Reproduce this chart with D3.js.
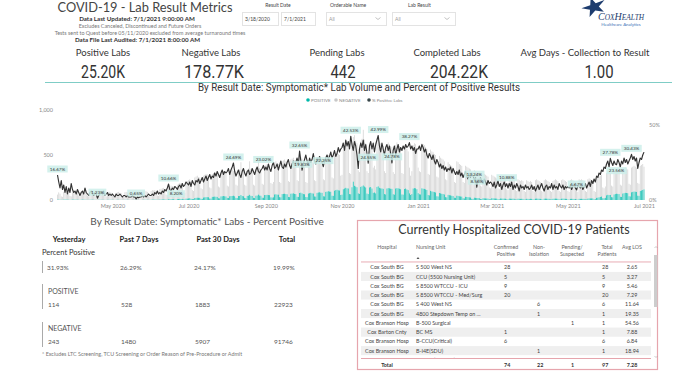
<!DOCTYPE html>
<html>
<head>
<meta charset="utf-8">
<script src="https://cdn.jsdelivr.net/npm/d3@7"></script>
<style>
  body { margin: 0; background: #fff; }
  svg text { font-family: Lato, "Open Sans", sans-serif; }
</style>
</head>
<body>
<svg id="dash" width="680" height="374"></svg>
<script>
// ---- data ----
let kpiLabels = ["Positive Labs", "Negative Labs", "Pending Labs", "Completed Labs", "Avg Days - Collection to Result"];
let kpiValues = ["25.20K", "178.77K", "442", "204.22K", "1.00"];

let startDay = "2020-03-18";
// total symptomatic labs per result date (positive + negative), one value per day
let totalLabs = [
  // Mar 2020 (from 18th)
  60, 85, 70, 40, 35, 90, 100, 95, 80, 75, 45, 40, 95, 105,
  // Apr
  100, 90, 85, 50, 45, 95, 100, 90, 85, 80, 45, 40, 90, 95, 100, 85, 80, 50, 40, 85, 90, 95, 80, 75, 45, 40, 80, 85, 90, 80,
  // May
  75, 40, 35, 80, 85, 90, 80, 75, 40, 35, 85, 90, 85, 80, 80, 40, 35, 85, 90, 95, 85, 80, 40, 35, 50, 95, 100, 95, 90, 45, 40,
  // Jun
  100, 110, 105, 110, 100, 50, 45, 120, 125, 130, 135, 120, 60, 55, 140, 150, 160, 155, 150, 80, 70, 170, 180, 190, 185, 175, 90, 80, 200, 210,
  // Jul
  220, 230, 150, 110, 100, 250, 260, 270, 255, 250, 130, 120, 270, 280, 290, 285, 270, 140, 130, 290, 300, 310, 290, 280, 150, 140, 300, 310, 320, 305, 290,
  // Aug
  160, 150, 320, 330, 340, 325, 310, 170, 160, 330, 340, 420, 335, 320, 170, 160, 340, 350, 430, 345, 330, 170, 160, 350, 360, 440, 355, 340, 180, 170, 380,
  // Sep
  390, 400, 380, 370, 190, 180, 200, 420, 430, 410, 400, 200, 190, 430, 440, 450, 430, 420, 210, 200, 450, 460, 470, 440, 430, 220, 210, 470, 480, 460,
  // Oct
  400, 390, 200, 190, 420, 430, 450, 420, 410, 220, 210, 440, 460, 470, 450, 440, 230, 220, 470, 490, 500, 480, 470, 250, 240, 500, 520, 540, 510, 500, 270,
  // Nov
  280, 560, 590, 620, 600, 580, 300, 290, 640, 700, 720, 660, 630, 330, 310, 650, 680, 780, 670, 630, 320, 300, 620, 650, 580, 360, 380, 340, 640, 680,
  // Dec
  650, 630, 620, 600, 320, 300, 610, 640, 620, 600, 590, 310, 290, 610, 640, 620, 600, 580, 300, 290, 590, 610, 570, 540, 360, 270, 320, 610, 630, 620, 580,
  // Jan 2021
  360, 320, 310, 630, 620, 610, 590, 570, 290, 280, 560, 540, 530, 510, 500, 260, 250, 490, 470, 460, 450, 430, 230, 220, 420, 400, 390, 380, 360, 200, 190,
  // Feb
  430, 420, 400, 390, 380, 200, 190, 380, 370, 360, 350, 340, 180, 170, 330, 320, 310, 300, 290, 160, 150, 300, 290, 280, 270, 260, 140, 130,
  // Mar
  280, 270, 260, 250, 240, 130, 120, 250, 240, 230, 240, 230, 120, 110, 240, 230, 220, 230, 220, 110, 100, 230, 220, 210, 220, 210, 100, 90, 220, 210, 200,
  // Apr
  210, 200, 100, 90, 220, 230, 220, 210, 200, 100, 90, 220, 230, 220, 210, 200, 100, 90, 210, 220, 230, 220, 210, 100, 90, 220, 230, 220, 210, 200,
  // May
  100, 90, 220, 230, 220, 210, 200, 100, 90, 230, 220, 230, 220, 210, 100, 90, 230, 240, 230, 220, 210, 100, 90, 240, 250, 260, 270, 280, 140, 130, 150,
  // Jun
  300, 320, 310, 300, 160, 150, 320, 330, 340, 330, 320, 170, 160, 340, 350, 360, 350, 340, 180, 170, 360, 370, 380, 370, 360, 190, 180, 380, 390, 400,
  // Jul 1
  370
];
let positiveLabs = [
  3, 4, 3, 2, 1, 4, 5, 4, 3, 3, 2, 2, 4, 4,
  4, 3, 3, 2, 1, 3, 4, 3, 3, 2, 1, 1, 3, 3, 3, 2, 2, 1, 0, 2, 3, 3, 2, 2, 1, 1, 2, 2, 3, 2,
  2, 1, 0, 2, 2, 2, 2, 1, 1, 0, 2, 2, 2, 1, 1, 1, 0, 1, 2, 2, 1, 1, 0, 0, 1, 2, 2, 2, 2, 1, 1,
  3, 4, 3, 4, 4, 2, 2, 5, 5, 6, 6, 6, 4, 3, 8, 8, 9, 9, 9, 5, 4, 10, 11, 13, 12, 13, 7, 6, 15, 16,
  18, 20, 14, 11, 10, 22, 24, 26, 25, 24, 14, 13, 28, 30, 32, 32, 31, 17, 16, 35, 36, 38, 36, 35, 20, 19, 40, 42, 44, 42, 40,
  24, 22, 42, 44, 45, 48, 42, 24, 22, 44, 45, 56, 44, 42, 24, 22, 46, 48, 58, 47, 45, 24, 22, 48, 50, 60, 50, 48, 26, 25, 55,
  56, 58, 55, 54, 30, 28, 30, 62, 64, 60, 60, 32, 30, 66, 68, 70, 66, 64, 34, 32, 70, 72, 74, 68, 66, 36, 34, 78, 82, 74,
  66, 64, 34, 32, 72, 76, 80, 74, 72, 40, 38, 80, 84, 86, 82, 80, 42, 40, 90, 94, 98, 94, 92, 48, 46, 104, 110, 114, 108, 106, 56,
  60, 120, 128, 136, 130, 128, 66, 64, 142, 204, 158, 150, 142, 74, 68, 146, 152, 162, 150, 140, 72, 66, 140, 144, 128, 80, 84, 74, 146, 152,
  136, 130, 128, 124, 66, 62, 128, 132, 130, 126, 124, 64, 60, 128, 132, 130, 126, 120, 62, 60, 122, 128, 118, 110, 74, 56, 66, 128, 132, 130, 120,
  76, 64, 62, 130, 126, 124, 118, 112, 56, 52, 102, 96, 92, 88, 84, 42, 40, 78, 74, 70, 66, 62, 32, 30, 58, 54, 52, 48, 44, 26, 24,
  48, 46, 42, 40, 38, 20, 18, 36, 34, 32, 30, 28, 14, 13, 26, 24, 22, 22, 20, 11, 10, 20, 19, 18, 17, 16, 9, 8,
  20, 19, 18, 17, 16, 9, 8, 17, 16, 15, 16, 15, 8, 7, 16, 15, 14, 15, 14, 7, 6, 15, 14, 13, 14, 13, 6, 6, 14, 13, 12,
  14, 13, 7, 6, 15, 16, 15, 14, 13, 7, 6, 15, 16, 15, 14, 13, 7, 6, 14, 15, 16, 15, 14, 7, 6, 15, 16, 15, 14, 13,
  6, 5, 13, 14, 13, 12, 12, 6, 5, 14, 13, 14, 13, 13, 7, 6, 16, 18, 18, 18, 18, 9, 9, 24, 26, 30, 34, 38, 20, 20, 24,
  52, 58, 56, 56, 32, 30, 62, 66, 70, 68, 66, 36, 34, 72, 76, 80, 78, 76, 42, 40, 86, 90, 94, 92, 90, 48, 46, 100, 106, 112,
  118
];
// % positive labs per day (percent)
let pctPositive = [
  16.67, 12, 8, 13, 7, 10, 5, 9, 4, 8, 5, 11, 7, 5,
  6, 4, 7, 5, 3, 5, 6, 4, 8, 5, 4, 3, 5, 6, 4, 3, 5, 4, 1.23, 3, 4, 5, 4, 6, 3, 4, 5, 3, 4, 3,
  4, 3, 2, 4, 3, 3, 4, 3, 2, 3, 3, 2, 3, 2, 2, 2, 3, 2, 2, 0.65, 2, 1.5, 2, 2, 3, 2, 3, 2, 3, 4, 3,
  3, 4, 3, 5, 4, 6, 4, 5, 4, 6, 5, 7, 6, 8, 10.66, 7, 6, 8, 7, 9, 8.2, 7, 9, 10, 8, 11, 9, 10, 12, 11,
  10, 12, 9, 13, 11, 10, 13, 12, 14, 11, 13, 15, 12, 14, 16, 13, 15, 17, 14, 16, 15, 18, 16, 19, 17, 15, 18, 20, 17, 19, 18,
  19, 21, 17, 20, 22, 24.69, 19, 16, 18, 20, 17, 15, 19, 21, 18, 16, 19, 20, 17, 18, 21, 19, 17, 20, 22, 19, 18, 20, 21, 23.02, 20,
  22, 20, 24, 21, 19, 23, 25, 21, 22, 24, 20, 23, 26, 22, 21, 24, 22, 25, 27, 23, 21, 24, 26, 23, 25, 28, 24, 32.65, 26, 19.83,
  24, 27, 30, 26, 23, 28, 25, 27, 31, 26, 24, 28, 26, 29, 27, 25, 22.25, 26, 28, 30, 27, 29, 32, 28, 30, 33, 29, 31, 35, 32, 34,
  35, 38, 33, 40, 36, 39, 34, 42.53, 37, 33, 39, 36, 30, 21, 34, 38, 35, 40, 33, 37, 31, 24.55, 36, 39, 34, 38, 32, 37, 40, 42.99,
  36, 32, 38, 34, 30, 35, 37, 33, 36, 31, 24.78, 33, 36, 30, 34, 37, 32, 35, 33, 36, 34, 37, 35, 36, 38.27, 34, 36, 33, 35, 31, 34,
  34, 36, 33, 37, 35, 32, 34, 30, 28, 31, 29, 27, 30, 26, 24, 27, 25, 22, 24, 21, 23, 20, 22, 19, 21, 20, 22, 18, 21, 19, 17,
  19, 17, 20, 16, 18, 15, 17, 19, 16, 14, 17, 15, 18, 16, 13.24, 15, 8.56, 14, 12, 15, 13, 11, 14, 12, 10, 13, 11, 12,
  11, 9, 12, 8, 10, 13, 9, 11, 7, 10, 12, 9, 10.88, 8, 11, 9, 12, 7, 10, 8, 11, 9, 6, 10, 8, 9, 7, 10, 8, 9, 7,
  8, 10, 7, 9, 6, 8, 10, 7, 9, 11, 8, 6, 9, 10, 7, 9, 8, 11, 7, 10, 8, 9, 7, 11, 9, 8, 10, 7, 9, 8,
  9, 8, 10, 7, 9, 11, 8, 6.67, 10, 9, 8, 10, 7, 9, 11, 8, 10, 12, 9, 13, 11, 14, 12, 16, 15, 18, 17, 20, 19, 22, 21,
  24, 26, 22, 27.78, 25, 23, 26, 24, 23.56, 27, 25, 22, 26, 24, 28, 25, 27, 24, 26, 28, 30.43, 27, 29, 26, 28, 21, 25, 28, 27, 30,
  31.93
];
let labelDates = ["2020-03-18", "2020-04-19", "2020-05-20", "2020-06-15", "2020-06-21", "2020-08-06", "2020-08-30",
  "2020-09-28", "2020-09-30", "2020-10-17", "2020-11-08", "2020-11-22", "2020-11-30", "2020-12-11", "2020-12-25",
  "2021-02-15", "2021-02-17", "2021-03-13", "2021-05-08", "2021-06-04", "2021-06-09", "2021-06-21"];

let summaryPeriods = ["Yesterday", "Past 7 Days", "Past 30 Days", "Total"];
let summaryPct = ["31.93%", "26.29%", "24.17%", "19.99%"];
let summaryPositive = [114, 528, 1883, 22923];
let summaryNegative = [243, 1480, 5907, 91746];

let hospitals = ["Cox South BG", "Cox South BG", "Cox South BG", "Cox South BG", "Cox South BG", "Cox South BG",
  "Cox Branson Hosp", "Cox Barton Cnty", "Cox Branson Hosp", "Cox Branson Hosp", "Cox Branson Hosp"];
let nursingUnits = ["S 500 West NS", "CCU (5500 Nursing Unit)", "S 8500 WTCCU - ICU", "S 8500 WTCCU - Med/Surg",
  "S 400 West NS", "4800 Stepdown Temp on ...", "B-500 Surgical", "BC MS", "B-CCU(Critical)", "B-I4E(SDU)", "B-MED(Medical)"];
let confirmedPositive = [28, 5, 9, 20, "", "", "", 1, 6, "", ""];
let nonIsolation = ["", "", "", "", 6, 1, "", "", "", 1, 1];
let pendingSuspected = ["", "", "", "", "", "", 1, "", "", "", ""];
let totalPatients = [28, 5, 9, 20, 6, 1, 1, 1, 6, 1, 1];
let avgLos = ["2.65", "3.27", "5.46", "7.29", "11.64", "19.35", "54.56", "7.88", "6.84", "18.94", "7.09"];
let tableTotals = ["Total", "", 74, 22, 1, 97, "7.28"];

// ---- page ----
let svg = d3.select("#dash");
let din = "Roboto, 'Open Sans', sans-serif";

// header
svg.append("text").attr("x", 145).attr("y", 12.2).attr("text-anchor", "middle")
  .style("font-size", "12.8px").attr("fill", "#444").text("COVID-19 - Lab Result Metrics");
let infoLines = [
  {t: "Data Last Updated: 7/1/2021 9:00:00 AM", x: 137, y: 21, b: true},
  {t: "Excludes Canceled, Discontinued and Future Orders", x: 140, y: 27.5, b: false},
  {t: "Tests sent to Quest before 05/11/2020 excluded from average turnaround times", x: 150, y: 35, b: false},
  {t: "Data File Last Audited: 7/1/2021 8:00:00 AM", x: 137.5, y: 42, b: true}
];
svg.selectAll(".info").data(infoLines).enter().append("text")
  .attr("x", d => d.x).attr("y", d => d.y).attr("text-anchor", "middle")
  .style("font-size", d => d.b ? "6.2px" : "5.4px").style("font-weight", d => d.b ? 700 : 400)
  .attr("fill", d => d.b ? "#333" : "#777").text(d => d.t);

// slicers
let slicer = svg.append("g").style("font-size", "5px").attr("fill", "#444");
slicer.append("text").attr("x", 278).attr("y", 7).attr("text-anchor", "middle").text("Result Date");
slicer.append("text").attr("x", 330).attr("y", 7).text("Orderable Name");
slicer.append("text").attr("x", 408).attr("y", 7).text("Lab Result");
[[242, 36, "3/18/2020"], [281, 34, "7/1/2021"], [326, 60, "All"], [392, 63, "All"]].forEach(function(b, i) {
  slicer.append("rect").attr("x", b[0] + 0.5).attr("y", 12.5).attr("width", b[1]).attr("height", 13)
    .attr("fill", "none").attr("stroke", "#e3e3e3");
  slicer.append("text").attr("x", b[0] + 3).attr("y", 21).attr("fill", i < 2 ? "#444" : "#999").text(b[2]);
  if (i >= 2) {
    let cx = b[0] + b[1] - 8;
    slicer.append("path").attr("d", "M" + (cx - 2.5) + ",17.5L" + cx + ",19.5L" + (cx + 2.5) + ",17.5")
      .attr("fill", "none").attr("stroke", "#999").attr("stroke-width", 0.6);
  }
});

// logo
let logo = svg.append("g");
logo.append("path").attr("d", d3.symbol(d3.symbolStar, 120)())
  .attr("transform", "translate(594,7) rotate(-20) scale(1.25,0.95)").attr("fill", "#1d3c6e");
let brand = logo.append("text").attr("x", 598).attr("y", 20).attr("fill", "#1d3c6e")
  .style("font-family", "'Liberation Serif', serif").style("font-style", "italic");
brand.append("tspan").style("font-size", "10px").text("C");
brand.append("tspan").style("font-size", "7.4px").text("OX");
brand.append("tspan").style("font-size", "10px").text("H");
brand.append("tspan").style("font-size", "7.4px").text("EALTH");
logo.append("text").attr("x", 621).attr("y", 25.5).attr("text-anchor", "middle")
  .style("font-size", "4.4px").attr("fill", "#3a6fb5").text("Healthcare Analytics");

// KPI cards
let kpiLabelX = [103, 211, 337, 447, 585];
let kpiValueX = [103, 214, 343, 459, 599];
let kpiValueW = [44, 60, 25, 58, 29];
svg.selectAll(".kpiLabel").data(kpiLabels).enter().append("text")
  .attr("x", (d, i) => kpiLabelX[i]).attr("y", 56).attr("text-anchor", "middle")
  .style("font-size", "9.5px").attr("fill", "#333").text(d => d);
svg.selectAll(".kpiValue").data(kpiValues).enter().append("text")
  .attr("x", (d, i) => kpiValueX[i]).attr("y", 78).attr("text-anchor", "middle")
  .style("font-family", din).style("font-size", "19px").attr("fill", "#333")
  .attr("textLength", (d, i) => kpiValueW[i]).attr("lengthAdjust", "spacingAndGlyphs").text(d => d);
svg.append("line").attr("x1", 45).attr("x2", 672).attr("y1", 82.5).attr("y2", 82.5)
  .attr("stroke", "#7fcdc6").attr("stroke-width", 1);

// ---- combo chart ----
svg.append("text").attr("x", 359).attr("y", 91).attr("text-anchor", "middle")
  .style("font-family", din).style("font-size", "10.5px").attr("fill", "#333")
  .attr("textLength", 322).attr("lengthAdjust", "spacingAndGlyphs")
  .text("By Result Date: Symptomatic* Lab Volume and Percent of Positive Results");

let legendItems = [
  {name: "POSITIVE", color: "#01b8aa", x: 308},
  {name: "NEGATIVE", color: "#c8c8c8", x: 336},
  {name: "% Positive Labs", color: "#374649", x: 369}
];
let legend = svg.append("g").selectAll("g").data(legendItems).enter().append("g")
  .attr("transform", d => "translate(" + d.x + ",100)");
legend.append("circle").attr("r", 1.8).attr("fill", d => d.color);
legend.append("text").attr("x", 3).attr("y", 1.6).style("font-size", "4.5px").attr("fill", "#888").text(d => d.name);

let parseDate = d3.timeParse("%Y-%m-%d");
let start = parseDate(startDay);
let series = totalLabs.map(function(t, i) {
  return {date: d3.timeDay.offset(start, i), total: t, positive: positiveLabs[i], pct: pctPositive[i] / 100};
});

let x = d3.scaleTime()
  .domain([start, series[series.length - 1].date])
  .range([57.5, 644]);
let yL = d3.scaleLinear().domain([0, 1000]).range([200, 110]);
let yR = d3.scaleLinear().domain([0, 0.6]).range([200, 110]);
let barW = 0.75;

let chart = svg.append("g");
chart.append("g").selectAll("rect").data(series).enter().append("rect")
  .attr("x", d => x(d.date) - barW / 2).attr("width", barW)
  .attr("y", d => yL(d.total)).attr("height", d => yL(d.positive) - yL(d.total))
  .attr("fill", "#d2d2d2");
chart.append("g").selectAll("rect").data(series).enter().append("rect")
  .attr("x", d => x(d.date) - barW / 2).attr("width", barW)
  .attr("y", d => yL(d.positive)).attr("height", d => yL(0) - yL(d.positive))
  .attr("fill", "#01b8aa");

let pctLine = d3.line().x(d => x(d.date)).y(d => yR(d.pct));
chart.append("path").attr("d", pctLine(series))
  .attr("fill", "none").attr("stroke", "#333").attr("stroke-width", 1.15).attr("stroke-linejoin", "round");

// data labels: above the point, or below it when it would hit the previous label
let labelG = chart.append("g").selectAll("g").data(labelDates.map(function(s) {
  return series[d3.timeDay.count(start, parseDate(s))];
})).enter().append("g");
labelG.append("text").attr("text-anchor", "middle").attr("y", 1.6)
  .style("font-size", "4.6px").attr("fill", "#333").text(d => d3.format(".2%")(d.pct));
let prevBox = null;
labelG.each(function(d) {
  let g = d3.select(this);
  let w = g.select("text").node().getComputedTextLength() + 5;
  let cx = x(d.date);
  let cy = yR(d.pct) - 6;
  if (prevBox && cx - w / 2 < prevBox.x2 && Math.abs(cy - prevBox.y) < 7) cy = yR(d.pct) + 6;
  prevBox = {x2: cx + w / 2, y: cy};
  g.attr("transform", "translate(" + cx + "," + cy + ")");
  g.insert("rect", "text").attr("x", -w / 2).attr("y", -3.5).attr("width", w).attr("height", 7)
    .attr("fill", "#cdeeea").attr("opacity", 0.85);
});

// axes
let axisStyle = function(sel) {
  sel.select(".domain").remove();
  sel.selectAll("text").style("font-size", "5.5px").attr("fill", "#888").style("font-family", "Lato, sans-serif");
};
chart.append("g").attr("transform", "translate(55,0)")
  .call(d3.axisLeft(yL).tickValues([0, 500, 1000]).tickSize(0).tickPadding(2).tickFormat(d3.format(",")))
  .call(axisStyle);
chart.append("g").attr("transform", "translate(649,0)")
  .call(d3.axisRight(yR).tickValues([0, 0.5]).tickSize(0).tickPadding(0).tickFormat(d3.format(".0%")))
  .call(axisStyle);
chart.append("g").attr("transform", "translate(0,200)")
  .call(d3.axisBottom(x).ticks(d3.timeMonth.every(2)).tickSize(0).tickPadding(4).tickFormat(d3.timeFormat("%b %Y")))
  .call(axisStyle);

// ---- percent positive summary ----
svg.append("text").attr("x", 207).attr("y", 225).attr("text-anchor", "middle")
  .style("font-size", "10px").attr("fill", "#555").text("By Result Date: Symptomatic* Labs - Percent Positive");
let headX = [69, 139, 218, 287];
let valX = [47, 120, 194, 273];
svg.selectAll(".head").data(summaryPeriods).enter().append("text")
  .attr("x", (d, i) => headX[i]).attr("y", 241.5).attr("text-anchor", "middle")
  .style("font-size", "7.5px").style("font-weight", 700).attr("fill", "#222").text(d => d);
svg.append("text").attr("x", 42).attr("y", 255).style("font-size", "7.5px").attr("fill", "#333").text("Percent Positive");

let summaryRows = [
  {title: null, values: summaryPct, y: 269.5, bar: [261, 273]},
  {title: "POSITIVE", values: summaryPositive, y: 307, bar: [284, 309]},
  {title: "NEGATIVE", values: summaryNegative, y: 344, bar: [322, 347]}
];
summaryRows.forEach(function(r) {
  svg.append("line").attr("x1", 42.5).attr("x2", 42.5).attr("y1", r.bar[0]).attr("y2", r.bar[1])
    .attr("stroke", "#aaa").attr("stroke-width", 1);
  if (r.title) {
    svg.append("text").attr("x", 48).attr("y", r.y - 13).style("font-size", "7px").attr("fill", "#555").text(r.title);
  }
  svg.append("g").selectAll("text").data(r.values).enter().append("text")
    .attr("x", (d, i) => valX[i] + (r.title ? 1 : 0)).attr("y", r.y)
    .style("font-size", "6.5px").attr("fill", "#555").text(d => d);
});
svg.append("text").attr("x", 42).attr("y", 355.5).style("font-size", "5.4px").attr("fill", "#777")
  .text("* Excludes LTC Screening, TCU Screening or Order Reason of Pre-Procedure or Admit");

// ---- hospitalized table ----
let tbl = svg.append("g");
tbl.append("rect").attr("x", 357.5).attr("y", 220.5).attr("width", 300).attr("height", 149)
  .attr("fill", "#fff").attr("stroke", "#e6a5ad").attr("stroke-width", 1.2);
tbl.append("text").attr("x", 514).attr("y", 234).attr("text-anchor", "middle")
  .style("font-size", "12.5px").attr("fill", "#333").text("Currently Hospitalized COVID-19 Patients");

let cols = [
  {head: ["Hospital"], x: 387, anchor: "middle"},
  {head: ["Nursing Unit"], x: 416, anchor: "start"},
  {head: ["Confirmed", "Positive"], x: 504, anchor: "start", hx: 506},
  {head: ["Non-", "Isolation"], x: 537, anchor: "start", hx: 539},
  {head: ["Pending/", "Suspected"], x: 571, anchor: "start", hx: 572},
  {head: ["Total", "Patients"], x: 602, anchor: "start", hx: 607},
  {head: ["Avg LOS"], x: 632, anchor: "middle"}
];
cols.forEach(function(c) {
  let t = tbl.append("text").attr("y", 249).style("font-size", "5.3px").attr("fill", "#666")
    .attr("text-anchor", c.hx ? "middle" : c.anchor);
  c.head.forEach(function(h, j) {
    t.append("tspan").attr("x", c.hx || c.x).attr("y", 249 + j * 7).text(h);
  });
});
tbl.append("path").attr("d", "M416.5,259 L418,257 L419.5,259 Z").attr("fill", "#555");
tbl.append("line").attr("x1", 361).attr("x2", 651).attr("y1", 262).attr("y2", 262).attr("stroke", "#e6a5ad");

// rows scroll under the total row; the last one is only partly visible
svg.append("clipPath").attr("id", "rowsClip").append("rect")
  .attr("x", 358).attr("y", 262.5).attr("width", 295).attr("height", 96);
let rowH = 9.27;
let rows = hospitals.map(function(h, i) {
  return [h, nursingUnits[i], confirmedPositive[i], nonIsolation[i], pendingSuspected[i], totalPatients[i], avgLos[i]];
});
let rowG = tbl.append("g").attr("clip-path", "url(#rowsClip)").selectAll("g").data(rows).enter().append("g")
  .attr("transform", (d, i) => "translate(0," + (267.3 + i * rowH) + ")");
rowG.append("rect").attr("x", 361).attr("y", -rowH / 2).attr("width", 290).attr("height", rowH)
  .attr("fill", (d, i) => i % 2 ? "#efefef" : "#fff");
rowG.selectAll("text").data(d => d).enter().append("text")
  .attr("x", (d, j) => cols[j].x).attr("y", 2).attr("text-anchor", (d, j) => cols[j].anchor)
  .style("font-size", "5.4px").attr("fill", "#444").text(d => d);

tbl.append("line").attr("x1", 361).attr("x2", 651).attr("y1", 358.5).attr("y2", 358.5).attr("stroke", "#e6a5ad");
tbl.append("g").selectAll("text").data(tableTotals).enter().append("text")
  .attr("x", (d, j) => cols[j].x).attr("y", 366.5).attr("text-anchor", (d, j) => cols[j].anchor)
  .style("font-size", "5.4px").style("font-weight", 700).attr("fill", "#333").text(d => d);

// scrollbar
tbl.append("path").attr("d", "M654.5,248 L656,246.5 L657.5,248").attr("fill", "none").attr("stroke", "#999").attr("stroke-width", 0.5);
tbl.append("rect").attr("x", 654).attr("y", 255).attr("width", 3.5).attr("height", 52).attr("fill", "#cdcdcd");
tbl.append("path").attr("d", "M654.5,356 L656,357.5 L657.5,356").attr("fill", "none").attr("stroke", "#999").attr("stroke-width", 0.5);
</script>
</body>
</html>
